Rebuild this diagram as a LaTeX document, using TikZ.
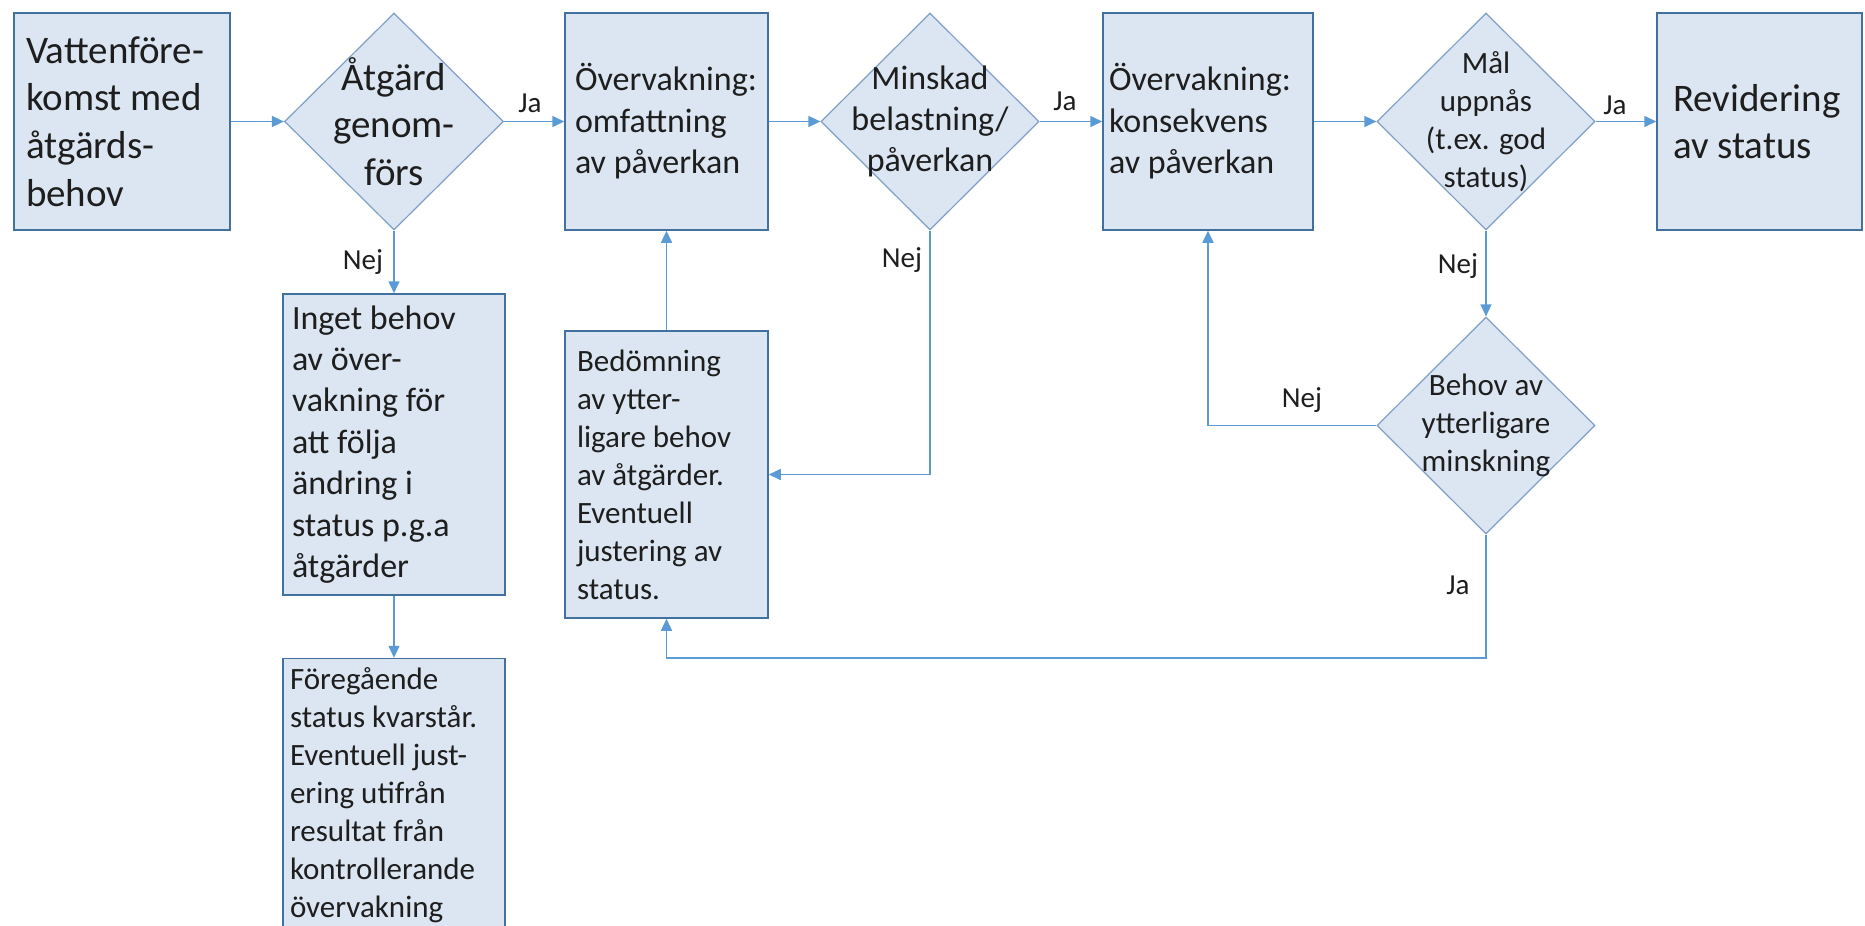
\documentclass[tikz,border=0pt]{standalone}
\usepackage{fontspec}
\setmainfont{Carlito}
\usetikzlibrary{shapes.geometric,arrows.meta}
\definecolor{flowline}{HTML}{5B9BD5}
\definecolor{boxfill}{HTML}{DCE6F2}
\definecolor{boxedge}{HTML}{41719C}
\definecolor{diaedge}{HTML}{7F9FC6}
\definecolor{textcol}{HTML}{1E1E1E}
\newcommand{\bigtxt}{\fontsize{19.5}{23.8}\selectfont}
\newcommand{\midtxt}{\fontsize{17}{20.7}\selectfont}
\newcommand{\smalltxt}{\fontsize{15.5}{19}\selectfont}
\tikzset{
  box/.style={rectangle, draw=boxedge, line width=0.75pt, fill=boxfill, align=flush left, inner ysep=1pt, text=textcol},
  dia/.style={diamond, aspect=1, draw=diaedge, line width=0.6pt, fill=boxfill, align=flush center, inner sep=-12pt, text=textcol},
  flow/.style={draw=flowline, line width=0.8pt, -{Triangle[length=6pt,width=5.5pt]}},
  lbl/.style={text=textcol, font=\fontsize{14.5}{17}\selectfont, inner sep=0pt}
}
\begin{document}
\begin{tikzpicture}[x=0.5pt,y=-0.5pt]
\useasboundingbox (0,0) rectangle (1865,926);
\clip (0,0) rectangle (1865,926);
\node[box, font=\bigtxt, inner xsep=6pt, text width=96pt, minimum height=108.5pt] (box1) at (122,121.5) {Vattenföre-\\komst med\\åtgärds-\\behov};
\node[dia, font=\bigtxt, minimum width=109.5pt, minimum height=108.5pt] (dia1) at (394,121.5) {Åtgärd\\genom-\\förs};
\node[box, font=\midtxt, inner xsep=5pt, text width=91.5pt, minimum height=108.5pt] (box2) at (666.5,121.5) {Övervakning:\\omfattning\\av påverkan};
\node[dia, font=\midtxt, minimum width=109pt, minimum height=108.5pt] (dia2) at (930,121.5) {Minskad\\belastning/\\påverkan};
\node[box, font=\midtxt, inner xsep=3pt, text width=99pt, minimum height=108.5pt] (box3) at (1208,121.5) {Övervakning:\\konsekvens\\av påverkan};
\node[dia, font=\smalltxt, minimum width=109pt, minimum height=108.5pt] (dia3) at (1486,121.5) {Mål\\uppnås\\(t.ex. god\\status)};
\node[box, font=\bigtxt, inner xsep=8pt, text width=86.5pt, minimum height=108.5pt] (box4) at (1759.5,121.5) {Revidering\\av status};
\node[box, font=\midtxt, inner xsep=4.5pt, text width=102pt, minimum height=150.5pt] (inget) at (394,444.5) {Inget behov\\av över-\\vakning för\\att följa\\ändring i\\status p.g.a\\åtgärder};
\node[box, font=\smalltxt, inner xsep=3.5pt, text width=104pt, minimum height=137pt] (fore) at (394,795.5) {Föregående\\status kvarstår.\\Eventuell just-\\ering utifrån\\resultat från\\kontrollerande\\övervakning};
\node[box, font=\smalltxt, inner xsep=6pt, text width=89.5pt, minimum height=143.5pt] (bedom) at (666.5,474.5) {Bedömning\\av ytter-\\ligare behov\\av åtgärder.\\Eventuell\\justering av\\status.};
\node[dia, font=\smalltxt, minimum width=109pt, minimum height=108.5pt] (behov) at (1486,425.5) {Behov av\\ytterligare\\minskning};
\coordinate (jaturn) at (1486,658);
\draw[flow] (box1) -- (dia1);
\draw[flow] (dia1) -- (box2);
\draw[flow] (box2) -- (dia2);
\draw[flow] (dia2) -- (box3);
\draw[flow] (box3) -- (dia3);
\draw[flow] (dia3) -- (box4);
\draw[flow] (dia1) -- (inget);
\draw[flow] (inget) -- (fore);
\draw[flow] (dia2.south) |- (bedom.east);
\draw[flow] (bedom) -- (box2);
\draw[flow] (dia3) -- (behov);
\draw[flow] (behov.west) -| (box3.south);
\draw[flow] (behov.south) -- (jaturn) -| (bedom.south);
\node[lbl] (ja1) at (530,103) {Ja};
\node[lbl] (ja2) at (1065,101) {Ja};
\node[lbl] (ja3) at (1615,105) {Ja};
\node[lbl] (nej1) at (363,262) {Nej};
\node[lbl] (nej2) at (902,260) {Nej};
\node[lbl] (nej3) at (1458,266) {Nej};
\node[lbl] (nej4) at (1302,400) {Nej};
\node[lbl] (ja4) at (1458,585) {Ja};
\end{tikzpicture}
\end{document}
